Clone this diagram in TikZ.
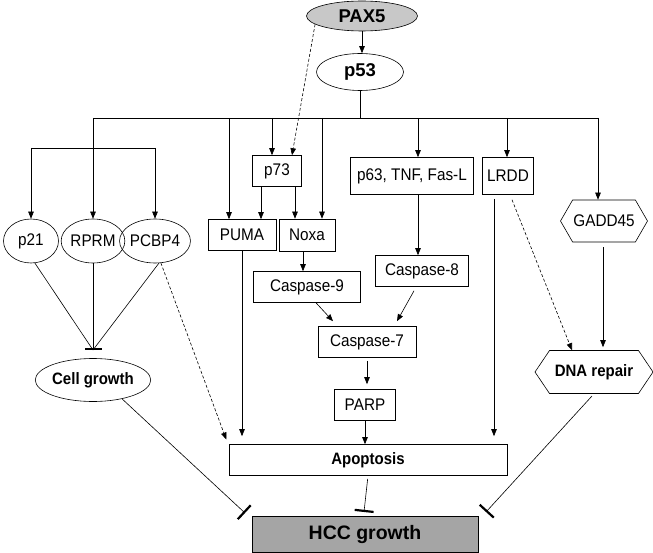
\documentclass[tikz,border=0pt]{standalone}
\usepackage{fontspec}
\usepackage{graphicx}
\setmainfont{Liberation Sans}
\usetikzlibrary{arrows.meta,shapes.geometric,shapes.symbols}
\definecolor{paxgray}{RGB}{200,200,200}
\definecolor{hccgray}{RGB}{165,165,165}
\newcommand{\vs}[1]{\scalebox{1}[1.1]{#1}}
\begin{document}
\begin{tikzpicture}[x=1pt,y=-1pt,
 base/.style={draw=black, line width=0.6pt, inner sep=0pt, font=\fontsize{15.3}{17}\selectfont, text=black},
 box/.style={base, rectangle, minimum height=31pt},
 oval/.style={base, ellipse},
 hexa/.style={base, signal, signal to=west and east, signal pointer angle=120},
 bfont/.style={font=\fontsize{15}{17}\selectfont\bfseries},
 arr/.style={-{Triangle[length=7pt,width=5.5pt]}, line width=0.6pt},
 dsh/.style={arr, dash pattern=on 3pt off 2pt},
 inh/.style={-{Bar[width=19pt,line width=2.2pt]}, line width=0.6pt},
 plain/.style={line width=0.6pt},
]
\useasboundingbox (0,0) rectangle (653,553);

% nodes
\node[oval, fill=paxgray, minimum width=111pt, minimum height=30pt, font=\fontsize{18.5}{20}\selectfont\bfseries] (pax5) at (362,16) {PAX5};
\node[oval, minimum width=87pt, minimum height=37pt, font=\fontsize{18.5}{20}\selectfont\bfseries] (p53) at (360,72) {p53};

\node[oval, minimum width=55pt, minimum height=44pt] (p21) at (31,241) {\vs{p21}};
\node[oval, minimum width=57pt, minimum height=44pt] (rprm) at (93,241) {\vs{RPRM}};
\node[oval, minimum width=63pt, minimum height=44pt] (pcbp4) at (155,241) {\vs{PCBP4}};
\node[oval, minimum width=111pt, minimum height=43pt, bfont] (cell) at (93,380) {\vs{Cell growth}};

\node[box, minimum width=49pt] (p73) at (277,171) {\vs{p73}};
\node[box, minimum width=68pt] (puma) at (242,235) {\vs{PUMA}};
\node[box, minimum width=56pt, minimum height=32pt] (noxa) at (307,235) {\vs{Noxa}};
\node[box, minimum width=123pt, minimum height=37pt] (p63) at (412,176) {\vs{p63, TNF, Fas-L}};
\node[box, minimum width=51pt, minimum height=37pt] (lrdd) at (508,176) {\vs{LRDD}};
\node[hexa, minimum width=87pt, minimum height=42pt] (gadd) at (604,221) {\vs{GADD45}};

\node[box, minimum width=93pt] (cas8) at (422,271) {\vs{Caspase-8}};
\node[box, minimum width=107pt] (cas9) at (307,287) {\vs{Caspase-9}};
\node[box, minimum width=98pt] (cas7) at (367,342) {\vs{Caspase-7}};
\node[box, minimum width=61pt] (parp) at (365,405) {\vs{PARP}};
\node[box, minimum width=278pt, bfont] (apop) at (368,460) {\vs{Apoptosis}};
\node[hexa, signal pointer angle=112, minimum width=118pt, minimum height=43pt, bfont] (dna) at (594,372) {\vs{DNA repair}};
\node[box, fill=hccgray, minimum width=226pt, minimum height=36pt, font=\fontsize{19.5}{22}\selectfont\bfseries] (hcc) at (365,534) {HCC growth};

% coordinates
\coordinate (bus) at (360,118);
\coordinate (busL) at (93,118);
\coordinate (busR) at (598,118);
\coordinate (sub) at (93,148);
\coordinate (tc) at (93,350);
\coordinate (tl) at (245,513);
\coordinate (tm) at (364,512);
\coordinate (tr) at (486,512);

% p53 bus
\draw[arr] (pax5.south) -- (pax5.south |- p53.north);
\draw[plain] (p53.south) -- (p53.south |- bus);
\draw[plain] (busL) -- (busR);
\draw[arr] (busL) -- (rprm.north);
\draw[plain] (p21.north |- sub) -- (pcbp4.north |- sub);
\draw[arr] (p21.north |- sub) -- (p21.north);
\draw[arr] (pcbp4.north |- sub) -- (pcbp4.north);
\draw[arr] ([xshift=-13pt]puma.north |- bus) -- ([xshift=-13pt]puma.north);
\draw[arr] ([xshift=-5pt]p73.north |- bus) -- ([xshift=-5pt]p73.north);
\draw[arr] ([xshift=15pt]noxa.north |- bus) -- ([xshift=15pt]noxa.north);
\draw[arr] ([xshift=6pt]p63.north |- bus) -- ([xshift=6pt]p63.north);
\draw[arr] ([xshift=-1pt]lrdd.north |- bus) -- ([xshift=-1pt]lrdd.north);
\draw[arr] (busR) -- (busR |- gadd.north);
\draw[dsh] (pax5.190) -- ([xshift=15pt]p73.north);

% apoptosis cascade
\draw[arr] ([xshift=-16pt]p73.south) -- ([xshift=-16pt]p73.south |- puma.north);
\draw[arr] ([xshift=18pt]p73.south) -- ([xshift=18pt]p73.south |- noxa.north);
\draw[arr] ([xshift=-4pt]noxa.south) -- ([xshift=-4pt]noxa.south |- cas9.north);
\draw[arr] ([xshift=6pt]p63.south) -- ([xshift=6pt]p63.south |- cas8.north);
\draw[arr] ([xshift=9pt]cas9.south) -- ([xshift=-34pt,yshift=5pt]cas7.north);
\draw[arr] ([xshift=-8pt,yshift=-4pt]cas8.south) -- ([xshift=30pt,yshift=5pt]cas7.north);
\draw[arr, shorten <=3pt, shorten >=5pt] (cas7.south) -- (cas7.south |- parp.north);
\draw[arr] (parp.south) -- (parp.south |- apop.north);
\draw[arr, shorten >=8pt] (puma.south) -- (puma.south |- apop.north);
\draw[arr, shorten <=4pt, shorten >=8pt] ([xshift=-14pt]lrdd.south) -- ([xshift=-14pt]lrdd.south |- apop.north);
\draw[dsh, shorten >=5pt] (pcbp4.-75) -- ([xshift=-140pt]apop.north);
\draw[dsh] ([xshift=4pt,yshift=-5pt]lrdd.south) -- ([xshift=-22pt]dna.north);
\draw[arr, shorten <=5pt, shorten >=3pt] ([xshift=-1pt]gadd.south) -- ([xshift=-1pt]gadd.south |- dna.north);

% inhibitions
\draw[plain] (p21.-80) -- (tc);
\draw[plain] (pcbp4.-80) -- (tc);
\draw[inh, -{Bar[width=17pt,line width=2.2pt]}] (rprm.south) -- (tc);
\draw[inh] (cell.-33) -- (tl);
\draw[inh, shorten <=3pt] (apop.south) -- (tm);
\draw[inh, shorten <=3pt] (dna.south) -- (tr);
\end{tikzpicture}
\end{document}
